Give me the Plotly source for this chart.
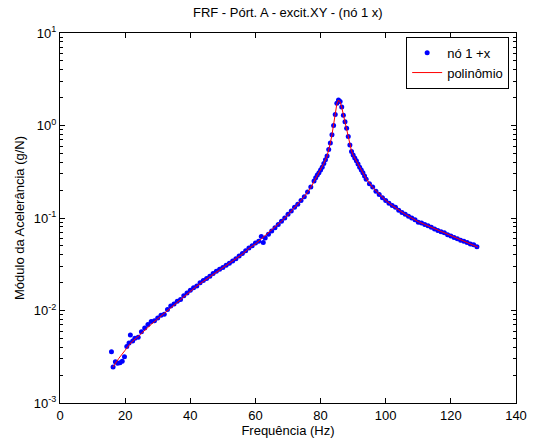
import plotly.graph_objects as go

# Measured points (frequency in Hz, log10 of accelerance in g/N)
freq_pts = [15.8, 16.3, 17.0, 17.7, 18.4, 19.1, 19.8, 20.5, 21.2, 21.6, 22.3,
            23, 24, 25, 26, 27, 28, 29, 30, 31, 32, 33, 34, 35, 36, 37, 38, 39,
            40, 41, 42, 43, 44, 45, 46, 47, 48, 49, 50, 51, 52, 53, 54, 55, 56,
            57, 58, 59, 60, 61, 61.8, 62.4, 63, 64, 65, 66, 67, 68, 69, 70, 71,
            72, 73, 74, 75, 76, 77, 78, 78.5, 79, 79.5, 80, 80.5, 81, 81.5, 82,
            82.5, 83, 83.5, 84, 84.5, 85, 85.5, 86, 86.5, 87, 87.5, 88, 88.5,
            89, 89.5, 90, 90.5, 91, 91.5, 92, 92.5, 93, 93.5, 94, 95, 96, 97,
            98, 99, 100, 101, 102, 103, 104, 105, 106, 107, 108, 109, 110, 111,
            112, 113, 114, 115, 116, 117, 118, 119, 120, 121, 122, 123, 124,
            125, 126, 127, 128]
log_pts = [-2.445, -2.61, -2.555, -2.57, -2.565, -2.55, -2.50, -2.39, -2.35, -2.265, -2.33,
           -2.30, -2.29, -2.23, -2.19, -2.15, -2.12, -2.11, -2.08, -2.05, -2.04, -1.99, -1.95, -1.93, -1.90, -1.88, -1.84, -1.81,
           -1.78, -1.755, -1.735, -1.70, -1.675, -1.655, -1.63, -1.60, -1.575, -1.555, -1.535, -1.51, -1.49, -1.465, -1.44, -1.41, -1.385,
           -1.355, -1.325, -1.30, -1.27, -1.25, -1.20, -1.265, -1.215, -1.175, -1.14, -1.105, -1.07, -1.035, -1.00, -0.96, -0.925,
           -0.885, -0.85, -0.81, -0.77, -0.72, -0.665, -0.60, -0.565, -0.535, -0.51, -0.48, -0.45, -0.41, -0.37, -0.33,
           -0.26, -0.19, -0.10, 0.00, 0.12, 0.24, 0.275, 0.26, 0.20, 0.11, 0.04, -0.03, -0.12,
           -0.21, -0.28, -0.32, -0.35, -0.38, -0.415, -0.45, -0.48, -0.51, -0.545, -0.58, -0.63, -0.665, -0.71,
           -0.745, -0.78, -0.81, -0.84, -0.865, -0.885, -0.915, -0.94, -0.96, -0.98, -1.00, -1.02, -1.045, -1.055,
           -1.07, -1.085, -1.10, -1.12, -1.135, -1.15, -1.16, -1.18, -1.195, -1.21, -1.225, -1.24, -1.25,
           -1.265, -1.28, -1.29, -1.31]

# Polynomial fit curve (frequency in Hz, log10 of accelerance)
freq_fit = [16.3, 18, 20, 22, 24, 26, 28, 30, 32, 34, 36, 38, 40, 42, 44, 46, 48,
            50, 52, 54, 56, 58, 60, 62, 64, 66, 68, 70, 72, 74, 75, 76, 77, 78,
            79, 80, 81, 82, 82.5, 83, 83.5, 84, 84.5, 85, 85.5, 86, 86.5, 87,
            87.5, 88, 88.5, 89, 89.5, 90, 91, 92, 93, 94, 96, 98, 100, 102, 104,
            106, 108, 110, 112, 114, 116, 118, 120, 122, 124, 126, 128.3]
log_fit = [-2.61, -2.52, -2.43, -2.34, -2.28, -2.21, -2.15, -2.09, -2.03, -1.965, -1.905, -1.845, -1.785, -1.735, -1.685, -1.635, -1.585,
           -1.54, -1.495, -1.445, -1.39, -1.33, -1.28, -1.22, -1.16, -1.10, -1.035, -0.965, -0.89, -0.815, -0.77, -0.72, -0.67, -0.605,
           -0.54, -0.48, -0.41, -0.33, -0.265, -0.19, -0.10, 0.00, 0.12, 0.235, 0.275, 0.255, 0.195, 0.11,
           0.035, -0.04, -0.125, -0.21, -0.275, -0.32, -0.385, -0.45, -0.51, -0.575, -0.67, -0.745, -0.81, -0.865, -0.915,
           -0.96, -1.00, -1.04, -1.07, -1.10, -1.135, -1.165, -1.195, -1.225, -1.25, -1.28, -1.315]

x_ticks = [0, 20, 40, 60, 80, 100, 120, 140]
y_ticks = [0.001, 0.01, 0.1, 1, 10]
y_tick_text = ["10<sup>-3</sup>", "10<sup>-2</sup>", "10<sup>-1</sup>", "10<sup>0</sup>", "10<sup>1</sup>"]

mag_pts = [10 ** v for v in log_pts]
mag_fit = [10 ** v for v in log_fit]

FONT = "Liberation Sans, Arial, sans-serif"

fig = go.Figure()
fig.add_trace(go.Scatter(
    x=freq_pts, y=mag_pts, mode="markers", name="nó 1 +x",
    marker=dict(color="#0000ff", size=5, line=dict(width=0)),
))
fig.add_trace(go.Scatter(
    x=freq_fit, y=mag_fit, mode="lines", name="polinômio",
    line=dict(color="#ff0000", width=1),
))

fig.update_layout(
    width=539, height=444,
    margin=dict(l=60, r=23, t=33, b=41, autoexpand=False),
    paper_bgcolor="white", plot_bgcolor="white",
    font=dict(family=FONT, size=13, color="black"),
    title=dict(text="FRF - Pórt. A - excit.XY - (nó 1 x)", x=0.534, xanchor="center",
               y=0.972, yanchor="middle", font=dict(family=FONT, size=13, color="black")),
    showlegend=True,
    legend=dict(x=0.985, xanchor="right", y=0.99, yanchor="top",
                bordercolor="black", borderwidth=1, bgcolor="white",
                font=dict(family=FONT, size=13, color="black"),
                tracegroupgap=0, itemwidth=30),
)
fig.update_xaxes(
    range=[0, 140], tickvals=x_ticks, ticks="inside", ticklen=5, tickcolor="black",
    showline=True, linecolor="black", linewidth=1, mirror="ticks",
    showgrid=False, zeroline=False, automargin=False,
    title=dict(text="Frequência (Hz)", standoff=4, font=dict(family=FONT, size=13)),
)
fig.update_yaxes(
    type="log", range=[-3, 1], tickvals=y_ticks, ticktext=y_tick_text,
    ticks="inside", ticklen=5, tickcolor="black",
    showline=True, linecolor="black", linewidth=1, mirror="ticks",
    showgrid=False, zeroline=False, automargin=False,
    minor=dict(ticks="inside", ticklen=3, tickcolor="black", dtick="D1", showgrid=False),
    title=dict(text="Módulo da Acelerância (g/N)", standoff=6, font=dict(family=FONT, size=13)),
)

fig.write_html("out.html", config={"displayModeBar": False},
               post_script="document.body.style.margin='0';document.body.style.overflow='hidden';")
